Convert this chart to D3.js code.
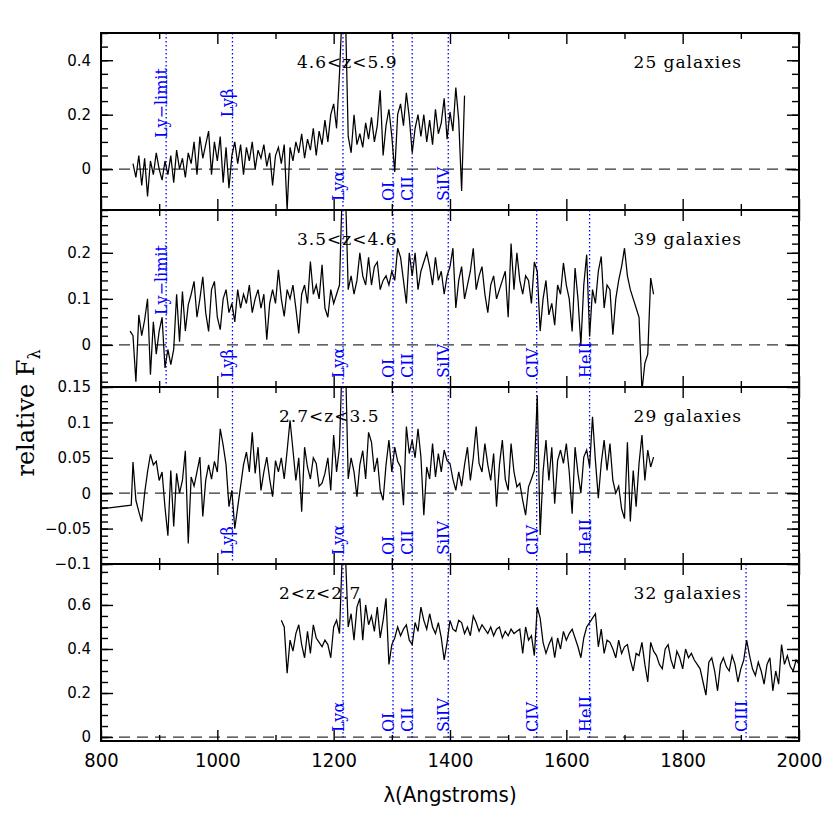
<!DOCTYPE html>
<html>
<head>
<meta charset="utf-8">
<script src="https://cdn.jsdelivr.net/npm/d3@7"></script>
<style>
  body { margin: 0; background: #fff; }
</style>
</head>
<body>
<svg id="spec"></svg>
<script>
// wavelength step of the stacked spectra (Angstroms)
var dWave = 5;

// 4.6<z<5.9 stack
var z1Label = "4.6<z<5.9", z1Count = "25 galaxies", z1Start = 855;
var z1Flux = [0.02,-0.03,0.05,-0.06,0.04,-0.1,0.03,-0.02,0.06,0.0,-0.04,0.03,-0.02,0.05,-0.05,0.07,0.0,0.04,-0.03,0.06,
  0.02,0.1,-0.02,0.12,0.04,0.09,0.14,-0.02,0.1,0.03,0.12,-0.05,0.08,-0.07,0.05,0.1,0.02,0.09,-0.02,0.08,
  0.03,0.1,0.0,0.07,0.04,0.09,0.01,0.06,-0.06,0.05,0.08,0.02,0.09,-0.15,0.08,0.03,0.1,0.06,0.13,0.04,
  0.11,0.07,0.15,0.05,0.14,0.09,0.18,0.1,0.2,0.24,0.15,0.35,0.6,0.6,0.12,0.06,0.2,0.09,0.13,0.08,
  0.17,0.11,0.19,0.1,0.16,0.29,0.05,0.16,0.22,0.12,-0.01,0.2,0.24,0.16,0.28,0.19,0.06,0.15,0.2,0.12,
  0.2,0.1,0.18,0.09,0.22,0.13,0.17,0.26,0.11,0.21,0.14,0.3,0.18,-0.08,0.27];

// 3.5<z<4.6 stack
var z2Label = "3.5<z<4.6", z2Count = "39 galaxies", z2Start = 850;
var z2Flux = [0.03,0.02,-0.08,0.065,0.02,0.054,0.1,-0.065,0.05,-0.02,0.03,0.06,-0.05,-0.01,-0.043,-0.01,0.11,0.007,0.116,0.03,
  0.087,0.11,0.138,0.06,0.1,0.148,0.07,0.029,0.12,0.138,0.06,0.033,0.1,0.12,0.07,0.09,0.05,0.12,0.08,0.11,
  0.09,0.13,0.07,0.1,0.12,0.08,0.11,0.011,0.09,0.12,0.09,0.163,0.1,0.062,0.12,0.1,0.13,0.08,0.025,0.11,
  0.13,0.09,0.181,0.11,0.13,0.1,0.174,0.08,0.06,0.12,0.09,0.11,0.13,0.35,0.35,0.12,0.15,0.11,0.14,0.2,
  0.15,0.13,0.19,0.13,0.17,0.18,0.12,0.14,0.15,0.13,0.16,0.14,0.21,0.19,0.14,0.09,0.2,0.15,0.2,0.12,
  0.16,0.18,0.2,0.17,0.13,0.19,0.14,0.16,0.11,0.15,0.17,0.21,0.08,0.14,0.17,0.1,0.13,0.16,0.21,0.12,
  0.15,0.17,0.11,0.07,0.13,0.15,0.1,0.12,0.14,0.16,0.06,0.22,0.12,0.2,0.14,0.11,0.15,0.14,0.09,0.18,
  0.16,0.03,0.1,0.14,0.065,0.09,0.043,0.13,0.11,0.178,0.13,0.1,0.029,0.167,0.1,0.0,0.13,0.196,0.018,0.12,
  0.09,0.16,0.192,0.08,0.13,0.12,0.022,0.1,0.14,0.17,0.21,0.15,0.12,0.1,0.08,0.06,-0.1,-0.04,-0.02,0.145,
  0.11];

// 2.7<z<3.5 stack (two isolated points before the grid)
var z3Label = "2.7<z<3.5", z3Count = "29 galaxies", z3Start = 855;
var z3LeadWave = [800, 852], z3LeadFlux = [-0.022, -0.017];
var z3Flux = [0.044,-0.01,-0.026,-0.04,0.0,0.03,0.055,0.04,0.045,0.018,0.03,-0.02,-0.06,0.032,-0.047,0.028,0.0,0.018,0.06,-0.071,
  0.023,0.01,0.03,0.051,-0.033,0.018,0.04,0.02,0.045,0.03,0.091,0.068,0.04,-0.019,0.004,-0.05,-0.02,0.01,0.04,0.058,
  0.03,0.086,0.028,0.065,0.004,0.03,0.051,0.02,-0.005,0.046,0.03,0.05,0.02,0.06,0.103,0.061,0.018,0.05,-0.026,0.065,
  0.037,0.02,0.05,0.042,0.01,0.014,0.028,0.05,0.004,0.082,0.03,0.065,0.2,0.2,0.02,0.05,0.03,-0.005,0.04,0.06,
  0.02,0.086,0.072,0.03,0.05,0.004,-0.01,0.04,0.075,0.03,0.065,0.045,0.037,-0.017,0.094,0.056,0.075,0.05,0.091,0.051,
  -0.031,0.037,0.02,0.07,0.023,0.056,0.03,0.061,0.046,0.042,0.02,0.004,0.03,0.01,0.04,0.065,0.018,0.05,0.094,0.042,
  0.03,0.07,0.04,0.018,0.056,-0.019,0.04,0.075,0.02,0.004,0.07,0.03,0.009,0.014,-0.01,-0.031,0.009,0.02,0.032,0.138,
  -0.059,0.03,0.075,0.018,0.065,-0.015,0.046,0.061,0.042,0.07,0.03,-0.029,0.065,0.028,0.0,0.051,0.061,0.037,0.108,0.046,
  -0.007,0.042,0.075,0.032,0.07,0.018,0.0,0.01,-0.022,-0.036,0.072,-0.04,0.032,-0.019,0.042,0.082,0.018,0.061,0.037,0.051];

// 2<z<2.7 stack
var z4Label = "2<z<2.7", z4Count = "32 galaxies", z4Start = 1110;
var z4Flux = [0.53,0.5,0.29,0.44,0.39,0.47,0.51,0.42,0.36,0.48,0.38,0.51,0.45,0.43,0.41,0.44,0.42,0.36,0.5,0.53,
  0.47,0.85,0.85,0.5,0.56,0.44,0.59,0.63,0.44,0.6,0.51,0.55,0.48,0.59,0.45,0.53,0.63,0.33,0.42,0.45,
  0.5,0.46,0.49,0.51,0.44,0.42,0.52,0.48,0.59,0.53,0.49,0.56,0.5,0.47,0.52,0.45,0.35,0.43,0.53,0.49,
  0.48,0.53,0.52,0.47,0.5,0.46,0.55,0.52,0.48,0.51,0.49,0.47,0.5,0.46,0.49,0.5,0.45,0.48,0.46,0.49,
  0.47,0.48,0.49,0.38,0.5,0.44,0.46,0.37,0.59,0.54,0.43,0.38,0.42,0.45,0.36,0.45,0.4,0.48,0.44,0.47,
  0.49,0.45,0.41,0.36,0.45,0.5,0.52,0.54,0.56,0.41,0.49,0.38,0.44,0.43,0.4,0.36,0.44,0.38,0.41,0.42,
  0.35,0.3,0.38,0.37,0.43,0.33,0.25,0.43,0.39,0.37,0.33,0.31,0.4,0.42,0.35,0.31,0.39,0.36,0.31,0.4,
  0.36,0.38,0.35,0.33,0.31,0.25,0.19,0.34,0.36,0.3,0.21,0.33,0.36,0.32,0.3,0.37,0.33,0.25,0.31,0.35,
  0.44,0.37,0.31,0.28,0.34,0.3,0.24,0.33,0.36,0.21,0.3,0.24,0.42,0.33,0.37,0.32,0.3,0.35,0.33];

// y-axis tick labels of each panel
var z1Ticks = [0, 0.2, 0.4];
var z2Ticks = [0, 0.1, 0.2];
var z3Ticks = [-0.1, -0.05, 0, 0.05, 0.1, 0.15];
var z4Ticks = [0, 0.2, 0.4, 0.6];
var xTicks = [800, 1000, 1200, 1400, 1600, 1800, 2000];

// spectral features (rest wavelength)
var lineNames = ["Ly\u2212limit", "Ly\u03b2", "Ly\u03b1", "OI", "CII", "SiIV", "CIV", "HeII", "CIII"];
var lineWaves = [912, 1026, 1216, 1302, 1335, 1397, 1549, 1640, 1909];

// set the dimensions and margins of the graph
var margin = {top: 33, right: 31, bottom: 89, left: 101},
    width = 830 - margin.left - margin.right,
    panelH = 177;

const svg = d3.select("#spec")
    .attr("width", 830)
    .attr("height", 830)
  .append("g")
    .attr("transform", `translate(${margin.left}, ${margin.top})`);

const x = d3.scaleLinear().domain([800, 2000]).range([0, width]);

function toPoints(start, flux) {
  return flux.map((f, i) => [start + i * dWave, f]);
}

var panels = [
  {label: z1Label, count: z1Count, pts: toPoints(z1Start, z1Flux), dom: [-0.15, 0.5], ticks: z1Ticks, minor: 0.05,
   labelX: 297, lines: {"Ly\u2212limit": "top", "Ly\u03b2": "top", "Ly\u03b1": "bot", "OI": "bot", "CII": "bot", "SiIV": "bot"}},
  {label: z2Label, count: z2Count, pts: toPoints(z2Start, z2Flux), dom: [-0.0915, 0.293], ticks: z2Ticks, minor: 0.02,
   labelX: 297, lines: {"Ly\u2212limit": "top", "Ly\u03b2": "bot", "Ly\u03b1": "bot", "OI": "bot", "CII": "bot", "SiIV": "bot", "CIV": "bot", "HeII": "bot"}},
  {label: z3Label, count: z3Count,
   pts: z3LeadWave.map((w, i) => [w, z3LeadFlux[i]]).concat(toPoints(z3Start, z3Flux)),
   dom: [-0.1, 0.15], ticks: z3Ticks, minor: 0.01,
   labelX: 279, lines: {"Ly\u03b2": "bot", "Ly\u03b1": "bot", "OI": "bot", "CII": "bot", "SiIV": "bot", "CIV": "bot", "HeII": "bot"}},
  {label: z4Label, count: z4Count, pts: toPoints(z4Start, z4Flux), dom: [-0.018, 0.786], ticks: z4Ticks, minor: 0.05,
   labelX: 279, lines: {"Ly\u03b1": "bot", "OI": "bot", "CII": "bot", "SiIV": "bot", "CIV": "bot", "HeII": "bot", "CIII": "bot"}}
];

const fmt = v => String(v).replace("-", "\u2212");

panels.forEach(function(p, k) {
  const g = svg.append("g").attr("transform", `translate(0, ${k * panelH})`);
  const y = d3.scaleLinear().domain(p.dom).range([panelH, 0]);

  g.append("clipPath").attr("id", "clip" + k)
    .append("rect").attr("width", width).attr("height", panelH);

  // zero level
  g.append("line")
    .attr("x1", 0).attr("x2", width)
    .attr("y1", y(0)).attr("y2", y(0))
    .attr("stroke", "#333").attr("stroke-width", 1.3)
    .attr("stroke-dasharray", "11,7");

  // feature markers
  lineNames.forEach(function(name, i) {
    if (!p.lines[name]) return;
    const lx = x(lineWaves[i]);
    g.append("line")
      .attr("x1", lx).attr("x2", lx).attr("y1", 0).attr("y2", panelH)
      .attr("stroke", "#0000ff").attr("stroke-width", 1.3)
      .attr("stroke-dasharray", "1.5,2.5");
    const top = p.lines[name] == "top";
    g.append("text")
      .attr("transform", `translate(${lx + 1}, ${top ? 70 : panelH - 9}) rotate(-90)`)
      .attr("text-anchor", top ? "middle" : "start")
      .style("font-family", "'DejaVu Serif', serif")
      .style("font-size", "16px")
      .style("fill", "#0000ff")
      .text(name);
  });

  // spectrum
  g.append("path")
    .datum(p.pts)
    .attr("clip-path", `url(#clip${k})`)
    .attr("fill", "none")
    .attr("stroke", "black")
    .attr("stroke-width", 1.25)
    .attr("stroke-linejoin", "miter")
    .attr("d", d3.line().x(d => x(d[0])).y(d => y(d[1])));

  // inward ticks on all four sides
  const minorY = d3.range(Math.ceil(p.dom[0] / p.minor - 1e-6) * p.minor, p.dom[1] + 1e-9, p.minor)
    .map(v => Math.round(v * 1000) / 1000);
  const tickStyle = sel => {
    sel.select(".domain").remove();
    sel.selectAll("line").attr("stroke", "black").attr("stroke-width", 1.4);
  };
  g.append("g").call(d3.axisLeft(y).tickValues(minorY).tickSize(-7).tickFormat("")).call(tickStyle);
  g.append("g").call(d3.axisLeft(y).tickValues(p.ticks).tickSize(-12).tickPadding(10).tickFormat(fmt))
    .call(tickStyle)
    .selectAll("text")
      .style("font-family", "'DejaVu Sans', sans-serif")
      .style("font-size", "15px")
      .style("fill", "black");
  g.append("g").attr("transform", `translate(${width}, 0)`)
    .call(d3.axisRight(y).tickValues(minorY).tickSize(-7).tickFormat("")).call(tickStyle);
  g.append("g").attr("transform", `translate(${width}, 0)`)
    .call(d3.axisRight(y).tickValues(p.ticks).tickSize(-12).tickFormat("")).call(tickStyle);

  const minorX = d3.range(900, 2000, 200);
  g.append("g").call(d3.axisTop(x).tickValues(minorX).tickSize(-6).tickFormat("")).call(tickStyle);
  g.append("g").call(d3.axisTop(x).tickValues(xTicks).tickSize(-11).tickFormat("")).call(tickStyle);
  g.append("g").attr("transform", `translate(0, ${panelH})`)
    .call(d3.axisBottom(x).tickValues(minorX).tickSize(-6).tickFormat("")).call(tickStyle);
  const bx = g.append("g").attr("transform", `translate(0, ${panelH})`)
    .call(d3.axisBottom(x).tickValues(xTicks).tickSize(-11).tickPadding(12)
      .tickFormat(k == panels.length - 1 ? d3.format("d") : ""))
    .call(tickStyle);
  bx.selectAll("text")
    .style("font-family", "'DejaVu Sans Condensed', 'DejaVu Sans', sans-serif")
    .style("font-stretch", "condensed")
    .style("font-size", "20px")
    .style("fill", "black");

  // frame
  g.append("rect")
    .attr("width", width).attr("height", panelH)
    .attr("fill", "none").attr("stroke", "black").attr("stroke-width", 2);

  // panel annotations
  g.append("text")
    .attr("x", p.labelX - margin.left).attr("y", 35)
    .style("font-family", "'DejaVu Serif', serif")
    .style("font-size", "17px")
    .style("letter-spacing", "1px")
    .style("fill", "black")
    .text(p.label);
  g.append("text")
    .attr("x", 742 - margin.left).attr("y", 35)
    .attr("text-anchor", "end")
    .style("font-family", "'DejaVu Serif', serif")
    .style("font-size", "17px")
    .style("letter-spacing", "1px")
    .style("fill", "black")
    .text(p.count);
});

// axis titles
svg.append("text")
  .attr("x", width / 2)
  .attr("y", 4 * panelH + 61)
  .attr("text-anchor", "middle")
  .style("font-family", "'DejaVu Sans Condensed', 'DejaVu Sans', sans-serif")
  .style("font-stretch", "condensed")
  .style("font-size", "22px")
  .style("fill", "black")
  .text("\u03bb(Angstroms)");

const yt = svg.append("text")
  .attr("transform", `translate(${34 - margin.left}, ${413 - margin.top}) rotate(-90)`)
  .attr("text-anchor", "middle")
  .style("font-family", "'DejaVu Serif', serif")
  .style("font-size", "24px")
  .style("fill", "black");
yt.append("tspan").text("relative F");
yt.append("tspan").attr("dy", 6).style("font-size", "16px").text("\u03bb");
</script>
</body>
</html>
